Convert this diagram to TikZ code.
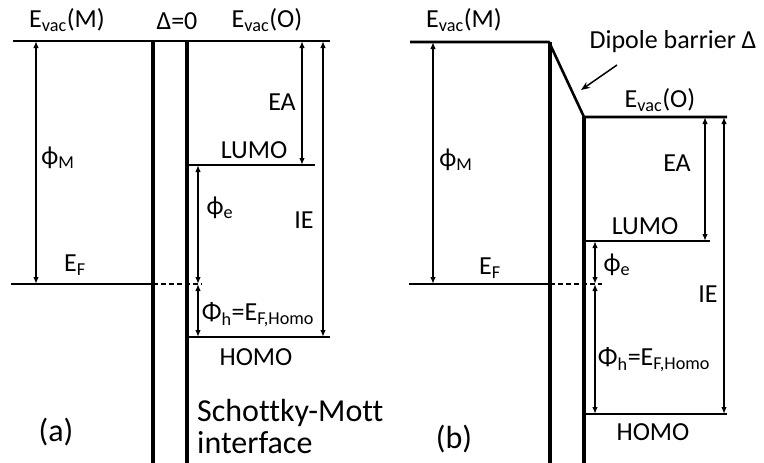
\documentclass[tikz,border=0pt]{standalone}
\usepackage{fontspec}
\setmainfont{Carlito}[Ligatures=NoCommon]
\usetikzlibrary{arrows.meta}

\begin{document}
\begin{tikzpicture}[x=1pt,y=-1pt,
    level/.style={line width=2.6pt},
    wall/.style={line width=3.8pt},
    gap/.style={{Latex[length=7pt,width=5.5pt]}-{Latex[length=7pt,width=5.5pt]},line width=1.5pt},
    lbl/.style={font=\fontsize{26}{30}\selectfont,inner sep=0pt},
    big/.style={font=\fontsize{32}{34}\selectfont,inner sep=0pt},
    ]
    \useasboundingbox (0,0) rectangle (764,463);

    % (a) levels
    \coordinate (vacMa) at (13,41);   \coordinate (vacOa) at (330,41);
    \coordinate (wa1) at (153,41);    \coordinate (wa2) at (187,41);
    \coordinate (lumoa) at (187,165); \coordinate (lumoaE) at (315,165);
    \coordinate (homoa) at (187,337); \coordinate (homoaE) at (330,337);
    \coordinate (efa) at (11,284);    \coordinate (efaW) at (153,284);
    \coordinate (efaD) at (202,284);

    \draw[level] (vacMa) -- (vacOa);
    \draw[wall] (wa1) -- (153,463);
    \draw[wall] (wa2) -- (187,463);
    \draw[level] (lumoa) -- (lumoaE);
    \draw[level] (homoa) -- (homoaE);
    \draw[level] (efa) -- (efaW);
    \draw[line width=1.6pt,dash pattern=on 5pt off 3pt] (efaW) -- (efaD);

    % (a) gaps
    \draw[gap] (36,41) -- (36,284);
    \draw[gap] (198,165) -- (198,284);
    \draw[gap] (198,284) -- (198,337);
    \draw[gap] (302,41) -- (302,165);
    \draw[gap] (323,41) -- (323,337);

    % (a) labels
    \node[lbl] (tvacMa) at (67,20) {E\textsubscript{vac}(M)};
    \node[lbl] (tdelta) at (177,21) {Δ=0};
    \node[lbl] (tvacOa) at (267,20) {E\textsubscript{vac}(O)};
    \node[lbl] (tphiMa) at (58,158) {ϕ\textsubscript{M}};
    \node[lbl] (tEAa) at (282,102) {EA};
    \node[lbl] (tlumoa) at (254,150) {LUMO};
    \node[lbl] (tphiea) at (220,208) {ϕ\textsubscript{e}};
    \node[lbl] (tIEa) at (304,220) {IE};
    \node[lbl] (tefa) at (75,265) {E\textsubscript{F}};
    \node[lbl] (tphiha) at (258,315) {Φ\textsubscript{h}=E\textsubscript{F,Homo}};
    \node[lbl] (thomoa) at (256,357) {HOMO};
    \node[big,anchor=base west] (tsm) at (197,421) {Schottky-Mott};
    \node[big,anchor=base west] (tif) at (197,453) {interface};
    \node[big] (ta) at (56,432) {(a)};

    % (b) levels
    \coordinate (vacMb) at (410,42);  \coordinate (wb1) at (549,42);
    \coordinate (wb2) at (584,117);   \coordinate (vacOb) at (727,117);
    \coordinate (lumobE) at (710,241); \coordinate (lumob) at (584,241);
    \coordinate (homob) at (584,414); \coordinate (homobE) at (727,414);
    \coordinate (efb) at (409,284);   \coordinate (efbW) at (550,284);
    \coordinate (efbD) at (602,284);

    \draw[level,line join=bevel] (vacMb) -- (wb1) -- (wb2) -- (vacOb);
    \draw[wall] (550,42) -- (550,463);
    \draw[wall] (wb2) -- (584,463);
    \draw[level] (lumob) -- (lumobE);
    \draw[level] (homob) -- (homobE);
    \draw[level] (efb) -- (efbW);
    \draw[line width=1.6pt,dash pattern=on 5pt off 3pt] (efbW) -- (efbD);

    % (b) gaps
    \draw[gap] (433,42) -- (433,284);
    \draw[gap] (595,241) -- (595,284);
    \draw[gap] (595,284) -- (595,414);
    \draw[gap] (705,117) -- (705,241);
    \draw[gap] (724,117) -- (724,414);

    % (b) labels
    \node[lbl] (tvacMb) at (464,20) {E\textsubscript{vac}(M)};
    \node[lbl] (tdip) at (673,42) {Dipole barrier Δ};
    \draw[-{Stealth[length=9pt,width=7pt]},line width=1.5pt] (617,65) -- (581,90);
    \node[lbl] (tvacOb) at (660,100) {E\textsubscript{vac}(O)};
    \node[lbl] (tphiMb) at (456,160) {ϕ\textsubscript{M}};
    \node[lbl] (tEAb) at (677,163) {EA};
    \node[lbl] (tlumob) at (645,226) {LUMO};
    \node[lbl] (tphieb) at (617,265) {ϕ\textsubscript{e}};
    \node[lbl] (tIEb) at (708,294) {IE};
    \node[lbl] (tefb) at (490,268) {E\textsubscript{F}};
    \node[lbl] (tphihb) at (654,360) {Φ\textsubscript{h}=E\textsubscript{F,Homo}};
    \node[lbl] (thomob) at (653,432) {HOMO};
    \node[big] (tb) at (454,439) {(b)};
\end{tikzpicture}
\end{document}
